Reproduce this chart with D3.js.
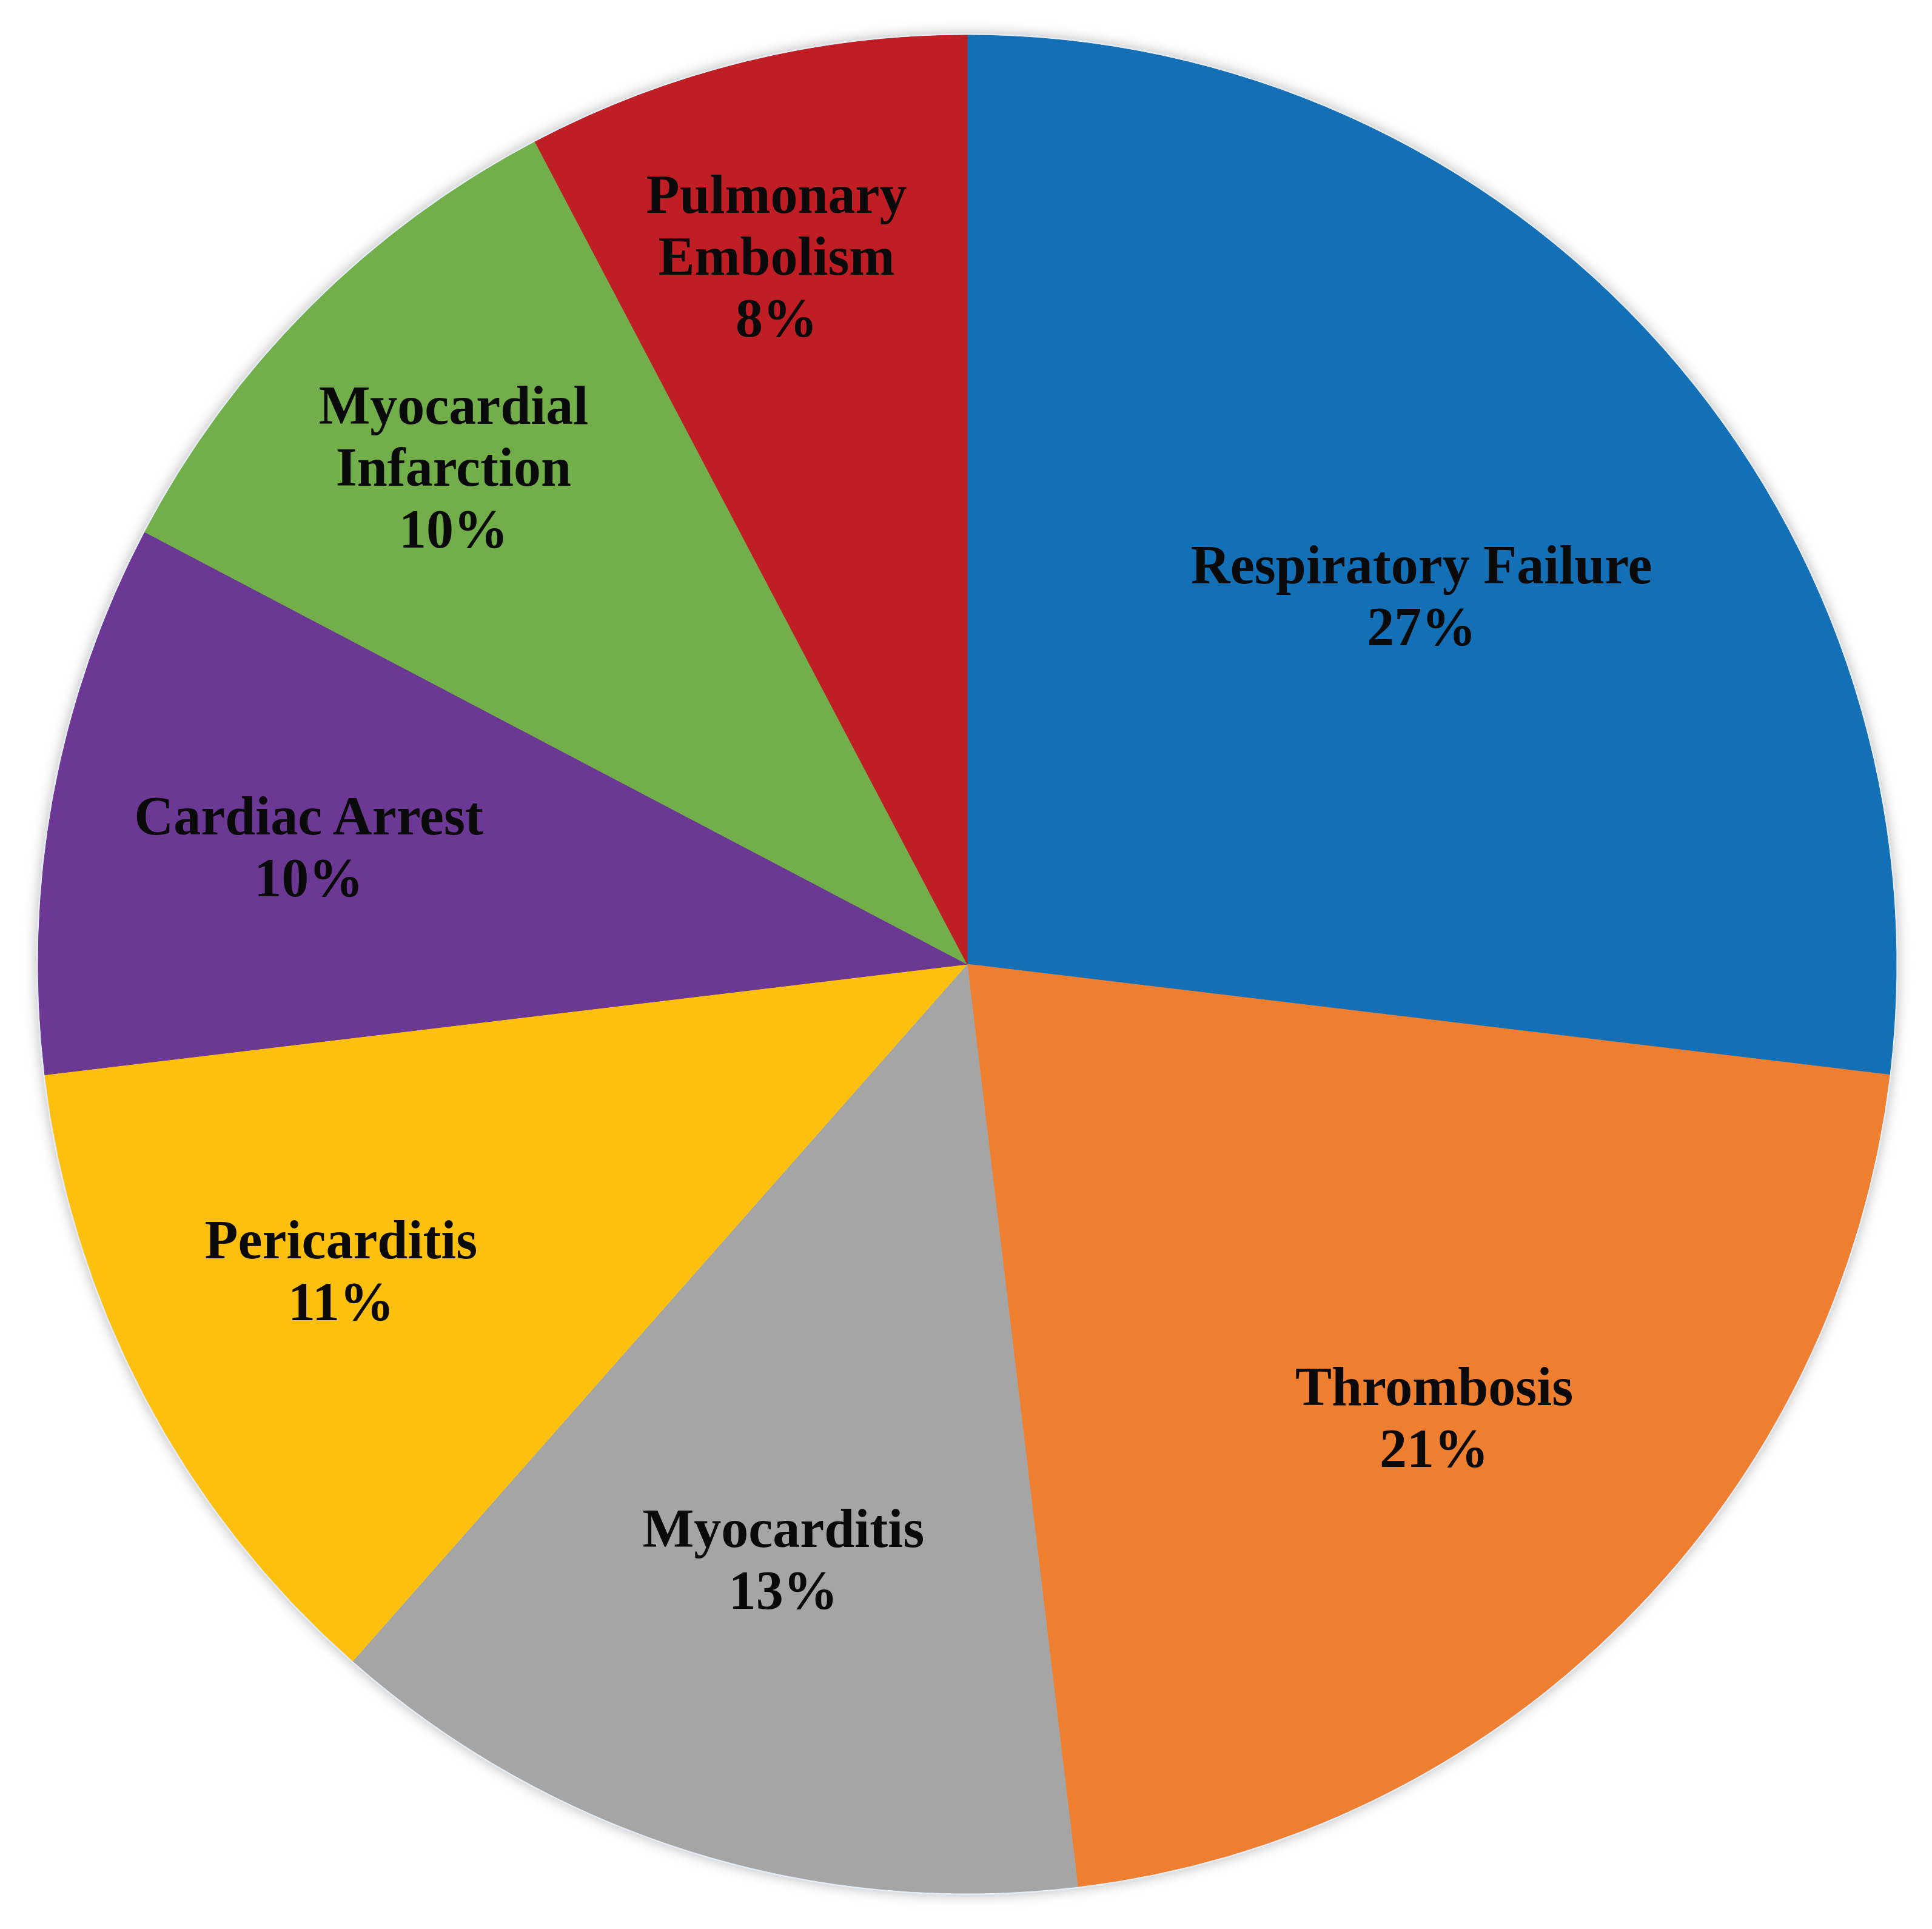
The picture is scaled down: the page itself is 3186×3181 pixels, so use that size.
<!DOCTYPE html>
<html>
<head>
<meta charset="utf-8">
<script src="https://cdn.jsdelivr.net/npm/d3@7"></script>
<style>
  html, body { margin: 0; padding: 0; background: #ffffff; }
  svg { display: block; }
</style>
</head>
<body>
<svg id="chart"></svg>
<script>
// ---- data ----
const categories = ["Respiratory Failure", "Thrombosis", "Myocarditis", "Pericarditis", "Cardiac Arrest", "Myocardial Infarction", "Pulmonary Embolism"];
const values = [26.9, 21.2, 13.4, 11.6, 9.6, 9.6, 7.7];
const pctLabels = ["27%", "21%", "13%", "11%", "10%", "10%", "8%"];
const colors = ["#1370b7", "#ee7f31", "#a5a5a5", "#fec00f", "#6b3894", "#72ae4a", "#bf1e24"];

// ---- layout ----
const W = 3186, H = 3181;
const cx = 1595, cy = 1590, R = 1532;
const labelLines = [["Respiratory Failure"], ["Thrombosis"], ["Myocarditis"], ["Pericarditis"], ["Cardiac Arrest"], ["Myocardial", "Infarction"], ["Pulmonary", "Embolism"]];
const labelRFrac = [0.63, 0.70, 0.67, 0.75, 0.72, 0.77, 0.79];
const labelAngleNudge = [2.5, -0.9, -0.1, 1.7, -0.3, -0.9, -1.2]; // degrees
const fontSize = 90, lineH = 102;

const svg = d3.select("#chart").attr("width", W).attr("height", H);
const defs = svg.append("defs");
const f = defs.append("filter").attr("id", "shadow").attr("x", "-10%").attr("y", "-10%").attr("width", "120%").attr("height", "120%");
f.append("feGaussianBlur").attr("stdDeviation", 9);

const g = svg.append("g").attr("transform", `translate(${cx},${cy})`);

// soft shadow + light rim
g.append("circle").attr("r", R + 6).attr("fill", "#c9c9c9").attr("filter", "url(#shadow)");
g.append("circle").attr("r", R + 3).attr("fill", "#e4ebf2");

const pie = d3.pie().sort(null).value(d => d)(values);
const arc = d3.arc().innerRadius(0).outerRadius(R);

g.selectAll("path.slice").data(pie).enter().append("path")
  .attr("class", "slice")
  .attr("d", arc)
  .attr("fill", (d, i) => colors[i])
  .attr("stroke", (d, i) => colors[i])
  .attr("stroke-width", 1);

const labels = g.selectAll("text.lbl").data(pie).enter().append("text")
  .attr("class", "lbl")
  .attr("text-anchor", "middle")
  .attr("font-family", "'Liberation Serif', 'Times New Roman', serif")
  .attr("font-weight", "bold")
  .attr("font-size", fontSize)
  .attr("fill", "#0a0a0a")
  .each(function(d, i) {
    const a = (d.startAngle + d.endAngle) / 2 + labelAngleNudge[i] * Math.PI / 180;
    const r = R * labelRFrac[i];
    const x = Math.sin(a) * r, y = -Math.cos(a) * r;
    const lines = labelLines[i].concat([pctLabels[i]]);
    const n = lines.length;
    const t = d3.select(this);
    lines.forEach((ln, k) => {
      t.append("tspan")
        .attr("x", x)
        .attr("y", y + (k - (n - 1) / 2) * lineH)
        .attr("dy", "0.35em")
        .text(ln);
    });
  });
</script>
</body>
</html>
